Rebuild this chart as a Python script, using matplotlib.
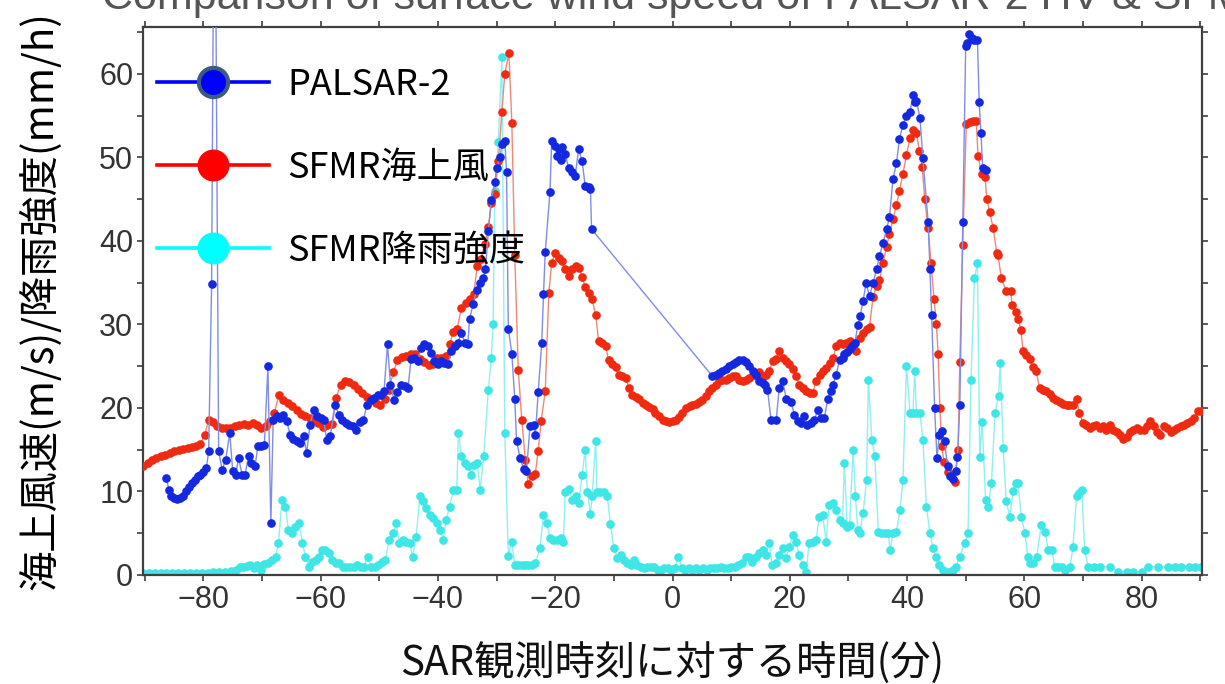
import numpy as np
import matplotlib
matplotlib.use("Agg")
import matplotlib.pyplot as plt
from matplotlib.lines import Line2D
from matplotlib.ticker import MultipleLocator

# PALSAR-2 wind speed (blue), gap between -14 and +7 min
palsar_t = [-86.3, -85.9, -85.5, -85.0, -84.5, -84.0, -83.5, -83.0, -82.5, -82.0,
            -81.5, -81.0, -80.5, -80.0, -79.5, -79.1, -78.6, -78.1, -77.4, -76.8,
            -76.2, -75.5, -75.0, -74.5, -74.0, -73.4, -72.9, -72.3, -71.8, -71.2,
            -70.7, -70.1, -69.6, -69.0, -68.5, -68.1, -67.5, -67.0, -66.4, -65.8,
            -65.2, -64.7, -64.1, -63.5, -62.9, -62.4, -61.8, -61.2, -60.6, -60.0,
            -59.5, -59.0, -58.4, -57.5, -56.9, -56.3, -55.7, -55.1, -54.5, -53.9,
            -53.3, -52.7, -52.1, -51.5, -50.9, -50.3, -49.7, -49.2, -48.6, -48.1,
            -47.5, -46.9, -46.3, -45.7, -45.1, -44.6, -44.0, -43.4, -42.9, -42.3,
            -41.7, -41.1, -40.6, -40.0, -39.4, -38.9, -38.3, -37.7, -37.1, -36.6,
            -36.0, -35.4, -34.9, -34.6, -34.0, -33.4, -32.9, -32.3, -31.9, -31.4,
            -30.9, -30.3, -30.0, -29.4, -29.1, -28.6, -28.3, -28.0, -27.4, -26.9,
            -26.6, -26.0, -25.4, -24.9, -24.3, -23.7, -23.4, -22.9, -22.3, -22.0,
            -21.7, -20.9, -20.6, -20.0, -19.7, -19.4, -19.1, -18.9, -18.3, -17.7,
            -17.1, -16.6, -16.0, -15.4, -14.9, -14.3, -14.0, -13.8,
            6.8, 7.4, 8.0, 8.5, 9.1, 9.7, 10.3, 10.8, 11.4, 12.0,
            12.5, 13.1, 13.7, 14.2, 14.8, 15.4, 15.7, 16.2, 16.8, 17.7,
            18.2, 18.8, 19.4, 20.2, 20.8, 21.4, 21.9, 22.5, 23.0, 23.6,
            24.2, 24.8, 25.4, 25.9, 26.5, 27.0, 27.4, 27.9, 28.5, 29.0,
            29.3, 29.7, 30.2, 30.6, 31.1, 31.6, 32.0, 32.5, 33.0, 33.6,
            34.2, 34.8, 35.3, 35.9, 36.5, 37.0, 37.6, 38.2, 38.7, 39.3,
            39.9, 40.5, 41.0, 41.3, 41.6, 42.2, 42.7, 43.6, 43.9, 44.2,
            44.7, 45.1, 45.5, 46.0, 46.4, 46.9, 47.4, 47.8, 48.3, 48.6,
            49.0, 49.5, 50.0, 50.3, 50.6, 51.0, 51.5, 52.0, 52.3, 52.6,
            52.9, 53.5]
palsar_v = [11.6, 10.2, 9.4, 9.2, 9.1, 9.2, 9.4, 10.0, 10.5, 11.0,
            11.4, 11.8, 12.0, 12.3, 12.8, 14.8, 34.8, 95.0, 14.8, 12.6,
            13.8, 17.0, 12.4, 12.0, 14.0, 12.0, 12.0, 14.2, 13.4, 13.0,
            15.5, 15.4, 15.6, 25.0, 6.2, 18.5, 19.0, 18.8, 19.2, 18.4,
            16.8, 16.3, 16.0, 15.8, 16.6, 14.6, 18.0, 19.8, 19.0, 18.8,
            18.6, 16.2, 16.6, 20.3, 19.2, 18.6, 18.2, 18.0, 17.8, 17.4,
            18.3, 18.6, 20.4, 21.0, 21.2, 21.5, 21.6, 22.0, 27.6, 22.8,
            21.0, 21.9, 22.8, 22.6, 22.4, 25.8, 26.0, 25.6, 27.2, 27.6,
            27.4, 26.6, 25.6, 25.2, 25.6, 25.4, 25.2, 26.8, 27.4, 27.8,
            29.0, 27.8, 27.6, 30.7, 32.4, 34.1, 35.0, 35.6, 36.6, 41.2,
            44.9, 47.0, 48.7, 50.0, 51.6, 52.0, 48.3, 29.5, 26.5, 21.1,
            16.1, 14.0, 12.7, 12.5, 17.8, 18.0, 16.7, 21.9, 27.8, 33.6,
            38.7, 45.8, 52.0, 51.4, 50.2, 51.0, 49.7, 51.2, 50.4, 48.7,
            48.2, 47.8, 51.0, 49.5, 46.6, 46.4, 46.2, 41.4,
            23.8, 24.0, 24.2, 24.4, 24.6, 25.0, 25.3, 25.5, 25.7, 25.7,
            25.5, 25.0, 24.4, 24.0, 23.2, 23.0, 22.8, 22.2, 18.6, 18.6,
            22.4, 23.2, 21.1, 20.7, 19.2, 18.4, 18.2, 19.0, 18.0, 18.2,
            18.6, 19.8, 18.8, 18.8, 21.1, 22.0, 22.8, 24.0, 25.7, 26.0,
            26.5, 26.7, 27.0, 27.4, 27.8, 29.9, 31.0, 32.8, 34.9, 33.4,
            34.9, 36.6, 38.2, 39.7, 41.4, 42.8, 47.4, 49.3, 52.2, 53.9,
            55.0, 55.4, 57.5, 56.6, 56.8, 54.7, 49.9, 42.2, 36.6, 31.1,
            20.0, 14.0, 16.7, 17.2, 16.0, 13.0, 11.8, 11.5, 12.5, 14.1,
            20.3, 42.2, 63.3, 63.7, 64.8, 64.3, 64.0, 64.1, 56.6, 52.9,
            48.7, 48.5]

# SFMR surface wind speed (red)
sfmr_wind_t = [-90.3, -89.5, -88.8, -88.0, -87.2, -86.5, -85.7, -85.0, -84.2, -83.5,
               -82.7, -82.0, -81.2, -80.5, -79.8, -79.1, -78.4, -77.6, -76.9, -76.1,
               -75.4, -74.6, -73.9, -73.1, -72.4, -71.6, -70.9, -70.1, -69.4, -68.6,
               -67.9, -67.1, -66.4, -65.6, -64.9, -64.1, -63.4, -62.6, -61.9, -61.1,
               -60.4, -59.6, -58.9, -58.1, -57.4, -56.6, -55.9, -55.1, -54.4, -53.6,
               -52.9, -52.1, -51.4, -50.6, -49.9, -49.1, -48.4, -47.6, -46.9, -46.1,
               -45.4, -44.6, -43.9, -43.1, -42.4, -41.6, -40.9, -40.1, -39.4, -38.6,
               -38.0, -37.4, -36.7, -36.0, -35.3, -34.6, -33.9, -33.3, -32.7, -32.0,
               -31.4, -30.9, -30.3, -29.7, -29.1, -28.6, -27.9, -27.4, -26.9, -26.3,
               -25.7, -25.1, -24.6, -24.0, -23.4, -22.9, -22.4, -21.7, -21.1, -20.6,
               -20.0, -19.4, -18.9, -18.3, -17.7, -17.1, -16.5, -16.0, -15.4, -14.9,
               -14.3, -13.7, -13.1, -12.6, -12.0, -11.4, -10.9, -10.3, -9.7, -9.1,
               -8.6, -8.0, -7.4, -6.9, -6.3, -5.7, -5.1, -4.6, -4.0, -3.4,
               -2.9, -2.3, -1.7, -1.1, -0.6, 0.0, 0.6, 1.1, 1.7, 2.3,
               2.9, 3.4, 4.0, 4.6, 5.1, 5.7, 6.3, 6.8, 7.4, 8.0,
               8.5, 9.1, 9.7, 10.3, 10.8, 11.4, 12.0, 12.5, 13.1, 13.7,
               14.2, 14.8, 15.4, 16.0, 16.5, 17.1, 17.7, 18.2, 18.8, 19.4,
               19.9, 20.5, 21.1, 21.6, 22.2, 22.8, 23.4, 23.9, 24.5, 25.1,
               25.6, 26.2, 26.8, 27.4, 27.9, 28.5, 29.1, 29.6, 30.2, 30.8,
               31.3, 31.9, 32.5, 33.1, 33.6, 34.2, 34.8, 35.3, 35.9, 36.5,
               37.0, 37.6, 38.2, 38.7, 39.3, 39.9, 40.5, 41.0, 41.6, 42.1,
               42.6, 43.0, 43.6, 44.1, 44.6, 45.0, 45.3, 45.6, 45.9, 46.3,
               46.9, 47.5, 48.1, 48.7, 49.0, 49.5, 50.1, 50.7, 51.2, 51.8,
               52.1, 52.7, 53.3, 53.6, 54.1, 54.7, 55.3, 55.5, 56.1, 56.9,
               57.7, 57.9, 58.5, 59.0, 59.4, 59.8, 60.3, 60.9, 61.4, 62.0,
               62.6, 63.2, 63.7, 64.3, 64.9, 65.4, 66.0, 66.6, 67.2, 67.7,
               68.3, 68.9, 69.4, 70.0, 70.6, 71.2, 71.7, 72.3, 72.9, 73.5,
               74.0, 74.6, 75.2, 75.8, 76.3, 76.9, 77.5, 78.1, 78.6, 79.2,
               79.8, 80.4, 80.9, 81.5, 82.1, 82.7, 83.2, 83.8, 84.4, 85.0,
               85.5, 86.1, 86.7, 87.3, 87.8, 88.4, 89.0, 89.6, 90.2]
sfmr_wind_v = [13.0, 13.4, 13.8, 14.0, 14.3, 14.4, 14.6, 14.8, 15.0, 15.1,
               15.2, 15.3, 15.5, 15.7, 16.7, 18.6, 18.3, 17.8, 17.6, 17.6,
               17.6, 17.8, 18.0, 18.1, 18.0, 18.2, 18.0, 17.6, 17.8, 18.4,
               19.4, 21.6, 21.0, 20.6, 20.2, 19.8, 19.3, 19.0, 18.8, 18.5,
               18.2, 17.7, 18.0, 18.1, 21.2, 22.7, 23.2, 23.1, 22.7, 22.3,
               21.8, 21.3, 21.1, 20.6, 20.3, 21.1, 22.1, 24.3, 25.7, 26.1,
               26.2, 26.5, 26.4, 25.9, 25.5, 25.1, 25.3, 26.0, 26.0, 26.2,
               27.6, 29.1, 29.5, 32.0, 32.6, 33.0, 33.6, 37.0, 37.8, 39.6,
               41.6, 44.5, 45.6, 49.6, 55.4, 60.0, 62.5, 54.1, 38.3, 24.5,
               18.6, 13.8, 10.9, 11.9, 12.1, 14.9, 18.4, 22.0, 33.7, 37.4,
               38.6, 38.0, 37.6, 36.6, 35.8, 36.6, 37.0, 36.8, 35.7, 34.5,
               33.8, 33.0, 31.1, 28.0, 27.8, 27.4, 25.7, 25.3, 24.9, 24.0,
               23.8, 23.6, 22.4, 21.5, 21.3, 21.1, 20.6, 20.3, 20.1, 19.9,
               19.4, 19.0, 18.6, 18.4, 18.3, 18.4, 18.6, 18.9, 19.4, 20.0,
               20.2, 20.3, 20.5, 20.7, 20.9, 21.4, 22.0, 22.4, 22.8, 23.2,
               23.4, 23.4, 23.6, 23.8, 23.8, 23.4, 23.2, 23.3, 23.6, 24.0,
               24.2, 24.3, 23.8, 24.0, 24.4, 25.6, 25.8, 26.8, 26.0, 25.6,
               25.3, 24.6, 23.8, 22.8, 22.4, 22.0, 21.8, 21.8, 23.2, 24.0,
               24.4, 24.8, 25.4, 26.0, 27.4, 27.8, 27.6, 27.8, 28.0, 27.2,
               26.8, 28.4, 29.0, 29.4, 29.7, 33.3, 34.6, 35.3, 37.3, 39.3,
               40.8, 42.6, 44.3, 46.0, 48.0, 50.3, 52.3, 53.3, 52.9, 50.8,
               48.8, 45.0, 41.5, 37.3, 33.0, 30.1, 26.5, 20.0, 15.5, 13.5,
               12.3, 11.8, 11.1, 15.0, 25.5, 39.5, 54.0, 54.2, 54.3, 54.4,
               50.2, 48.0, 47.6, 45.0, 43.4, 41.5, 38.5, 38.3, 35.5, 34.0,
               34.0, 32.3, 31.5, 30.6, 29.3, 26.8, 26.3, 25.9, 24.9, 24.4,
               22.4, 22.2, 22.0, 21.7, 21.2, 20.9, 20.7, 20.5, 20.3, 20.3,
               20.4, 21.1, 19.4, 18.2, 18.0, 17.6, 17.8, 18.0, 17.6, 17.8,
               17.4, 18.0, 17.4, 17.1, 16.8, 16.3, 16.5, 17.1, 17.3, 17.6,
               17.4, 17.4, 17.8, 18.4, 17.8, 17.1, 16.7, 17.8, 17.6, 17.1,
               17.3, 17.6, 17.8, 18.0, 18.2, 18.4, 18.8, 19.6, 19.6]

# SFMR rain rate (cyan)
sfmr_rain_t = [-90.3, -89.3, -88.3, -87.3, -86.3, -85.3, -84.3, -83.3, -82.3, -81.3,
               -80.3, -79.3, -78.3, -77.3, -76.3, -75.3, -74.5, -73.8, -73.2, -72.6,
               -72.0, -71.4, -70.8, -70.2, -69.6, -68.9, -68.3, -67.7, -67.2, -66.6,
               -66.0, -65.5, -64.9, -64.3, -63.7, -63.1, -62.6, -62.0, -61.4, -60.8,
               -60.3, -59.8, -59.2, -58.6, -58.0, -57.4, -56.8, -56.2, -55.6, -55.0,
               -54.4, -53.8, -53.2, -52.6, -52.0, -51.4, -50.8, -50.2, -49.6, -49.0,
               -48.3, -47.7, -47.1, -46.6, -46.0, -45.4, -44.8, -44.3, -43.7, -43.1,
               -42.5, -42.0, -41.4, -40.8, -40.2, -39.6, -39.1, -38.6, -38.0, -37.4,
               -36.8, -36.5, -36.0, -35.4, -34.8, -34.3, -33.8, -33.3, -32.8, -32.2,
               -31.4, -30.9, -30.6, -30.3, -29.7, -29.1, -28.6, -28.0, -27.4, -26.9,
               -26.3, -25.7, -25.1, -24.6, -24.0, -23.4, -22.6, -22.0, -21.4, -20.9,
               -20.3, -19.7, -19.1, -18.6, -18.3, -17.7, -17.1, -16.5, -16.0, -15.4,
               -14.9, -14.5, -14.0, -13.7, -13.1, -12.9, -12.3, -11.7, -11.1, -10.6,
               -10.0, -9.4, -8.8, -8.3, -7.7, -7.1, -6.6, -6.0, -5.4, -4.8,
               -4.3, -3.7, -3.1, -2.5, -2.0, -1.4, -0.8, -0.2, 0.4, 1.0,
               1.6, 2.2, 2.8, 3.4, 4.0, 4.6, 5.2, 5.8, 6.4, 7.0,
               7.6, 8.2, 8.8, 9.4, 10.0, 10.6, 11.2, 11.8, 12.5, 13.1,
               13.6, 14.2, 14.8, 15.4, 15.9, 16.5, 17.0, 17.6, 18.2, 18.8,
               19.4, 19.9, 20.5, 21.0, 21.6, 22.2, 22.8, 23.3, 23.9, 24.5,
               25.0, 25.6, 26.2, 26.7, 27.3, 27.9, 28.5, 29.0, 29.3, 29.8,
               30.2, 30.8, 31.2, 31.6, 31.9, 32.5, 33.1, 33.4, 34.0, 34.5,
               35.1, 35.6, 36.2, 36.8, 37.1, 37.6, 38.2, 38.8, 39.3, 39.9,
               40.5, 41.0, 41.3, 41.6, 42.2, 42.7, 43.3, 43.9, 44.4, 45.0,
               45.5, 46.1, 46.6, 47.2, 47.8, 48.3, 49.0, 49.8, 50.4, 50.9,
               51.5, 52.0, 52.4, 52.8, 53.4, 53.8, 54.4, 55.0, 55.6, 55.9,
               56.4, 56.9, 57.5, 58.1, 58.6, 58.9, 59.5, 60.1, 60.6, 61.0,
               61.5, 62.1, 62.9, 63.5, 64.1, 64.7, 65.2, 65.8, 66.4, 67.0,
               67.8, 68.3, 68.9, 69.4, 69.8, 70.3, 70.9, 71.8, 72.9, 74.6,
               76.0, 77.5, 78.6, 80.0, 81.1, 82.8, 84.5, 85.7, 86.8, 88.0,
               89.1, 90.2]
sfmr_rain_v = [0.2, 0.2, 0.2, 0.2, 0.2, 0.2, 0.2, 0.2, 0.2, 0.2,
               0.2, 0.2, 0.3, 0.3, 0.4, 0.5, 0.6, 1.0, 1.0, 1.1,
               1.2, 0.8, 1.2, 0.6, 1.3, 1.4, 1.8, 2.2, 3.8, 9.0,
               8.2, 5.4, 5.0, 5.8, 6.2, 3.8, 2.2, 1.0, 1.6, 1.8,
               2.2, 3.0, 3.0, 2.6, 1.8, 1.4, 1.4, 1.0, 1.0, 1.0,
               1.0, 1.2, 1.0, 1.0, 2.2, 1.0, 1.0, 1.2, 1.6, 1.8,
               4.2, 5.0, 6.2, 3.8, 4.2, 4.0, 3.8, 2.2, 4.6, 9.4,
               8.8, 8.0, 7.2, 6.8, 6.2, 5.4, 4.2, 6.6, 8.2, 10.2,
               10.2, 17.0, 14.2, 13.4, 13.0, 12.0, 13.2, 13.4, 10.2, 14.2,
               22.2, 26.0, 30.0, 46.0, 51.8, 62.0, 17.0, 2.3, 4.0, 1.2,
               1.2, 1.2, 1.2, 1.2, 1.2, 1.4, 3.2, 7.2, 6.2, 4.4,
               4.2, 4.2, 4.4, 4.0, 9.9, 10.3, 9.0, 9.4, 8.6, 12.0,
               15.0, 9.9, 7.3, 9.4, 16.1, 9.9, 9.9, 9.9, 9.4, 6.1,
               3.2, 2.0, 2.4, 1.8, 1.4, 1.2, 1.8, 1.2, 1.0, 0.8,
               1.0, 1.0, 1.0, 0.6, 0.6, 0.8, 0.8, 0.6, 0.8, 2.2,
               0.8, 0.6, 0.8, 0.6, 0.8, 0.6, 0.8, 0.6, 0.8, 0.8,
               0.8, 1.0, 0.8, 0.8, 1.0, 1.0, 1.2, 1.4, 2.2, 2.2,
               1.6, 2.2, 2.6, 3.0, 2.4, 3.8, 1.2, 1.4, 2.4, 3.2,
               2.0, 3.4, 4.8, 4.0, 2.4, 1.2, 0.4, 3.8, 4.0, 4.2,
               7.0, 7.2, 4.0, 8.4, 8.6, 7.8, 6.6, 6.2, 13.4, 5.8,
               6.0, 15.0, 9.4, 5.4, 5.0, 7.4, 11.4, 23.4, 16.2, 14.2,
               5.2, 5.0, 5.0, 5.0, 3.0, 5.0, 5.2, 7.8, 11.4, 25.0,
               19.4, 19.4, 24.4, 19.4, 19.4, 16.2, 8.2, 5.0, 3.2, 2.2,
               1.2, 0.6, 0.4, 0.4, 0.6, 1.0, 2.2, 3.8, 5.0, 23.4,
               35.5, 37.4, 14.1, 18.3, 9.0, 8.1, 11.0, 19.4, 21.4, 25.4,
               15.2, 8.9, 7.0, 10.1, 11.0, 11.0, 7.0, 5.0, 2.2, 1.4,
               1.4, 2.2, 6.0, 5.2, 3.0, 3.0, 1.0, 1.0, 1.0, 0.6,
               1.0, 3.4, 9.4, 9.8, 10.2, 3.0, 1.0, 1.0, 1.0, 1.0,
               0.4, 0.4, 0.4, 0.4, 1.0, 1.0, 1.0, 1.0, 1.0, 1.0,
               1.0, 1.0]

x_ticks = [-80, -60, -40, -20, 0, 20, 40, 60, 80]
y_ticks = [0, 10, 20, 30, 40, 50, 60]

series_labels = ["PALSAR-2", "SFMR海上風", "SFMR降雨強度"]
title_text = "Comparison of surface wind speed of PALSAR-2 HV & SFMR"
x_label = "SAR観測時刻に対する時間(分)"
y_label = "海上風速(m/s)/降雨強度(mm/h)"

jp_font = ["Noto Sans CJK JP", "DejaVu Sans"]
narrow_font = ["Liberation Sans Narrow", "Liberation Sans", "DejaVu Sans"]

fig = plt.figure(figsize=(12.25, 6.84), dpi=100)
ax = fig.add_axes([143 / 1225, 1 - 575 / 684, 1059 / 1225, 548 / 684])

ax.plot(sfmr_rain_t, sfmr_rain_v, color="#8ef0f0", lw=1.0, marker="o", ms=5.2,
        mfc="#3ee6e6", mec="#3ee6e6", zorder=2)
ax.plot(sfmr_wind_t, sfmr_wind_v, color="#f08878", lw=1.0, marker="o", ms=5.2,
        mfc="#f02a10", mec="#f02a10", zorder=3)
ax.plot(palsar_t, palsar_v, color="#7f8ce8", lw=1.0, marker="o", ms=5.2,
        mfc="#1428e0", mec="#1428e0", zorder=4)

ax.set_xlim(-90.3, 90.3)
ax.set_ylim(0, 65.6)
ax.set_xticks(x_ticks)
ax.set_yticks(y_ticks)
ax.xaxis.set_minor_locator(MultipleLocator(10))
ax.yaxis.set_minor_locator(MultipleLocator(5))
ax.tick_params(which="both", direction="out", length=4, width=1.2, color="#404040",
               top=True, right=True)
ax.tick_params(labelsize=22, labelcolor="#333333", pad=3)
for lbl in ax.get_xticklabels() + ax.get_yticklabels():
    lbl.set_family(narrow_font)
for sp in ax.spines.values():
    sp.set_color("#404040")
    sp.set_linewidth(1.6)

ax.set_xlabel(x_label, fontsize=29, family=jp_font, color="#111111")
ax.xaxis.set_label_coords(0.5, -0.121)
ax.set_ylabel(y_label, fontsize=29, family=jp_font, color="#000000")
ax.yaxis.set_label_coords(-0.077, 0.5)

handles = [
    Line2D([], [], color="#0000ff", lw=2.6, marker="o", ms=21, mfc="#0000ff",
           mec="#3d5a80", mew=3.0),
    Line2D([], [], color="#ff0000", lw=2.6, marker="o", ms=22, mfc="#ff0000",
           mec="#ff0000"),
    Line2D([], [], color="#00ffff", lw=2.6, marker="o", ms=22, mfc="#00ffff",
           mec="#00ffff"),
]
ax.legend(handles, series_labels, loc="upper left", bbox_to_anchor=(14 / 1059, 1 - 40 / 548),
          frameon=False, borderpad=0, borderaxespad=0, handlelength=3.1,
          handletextpad=0.5, labelspacing=1.3,
          prop={"family": jp_font, "size": 26})

fig.text(102 / 1225, 1 - 9 / 684, title_text, fontsize=31, family=narrow_font,
         color="#555555", va="baseline", ha="left")

fig.savefig("out.png", dpi=100)
